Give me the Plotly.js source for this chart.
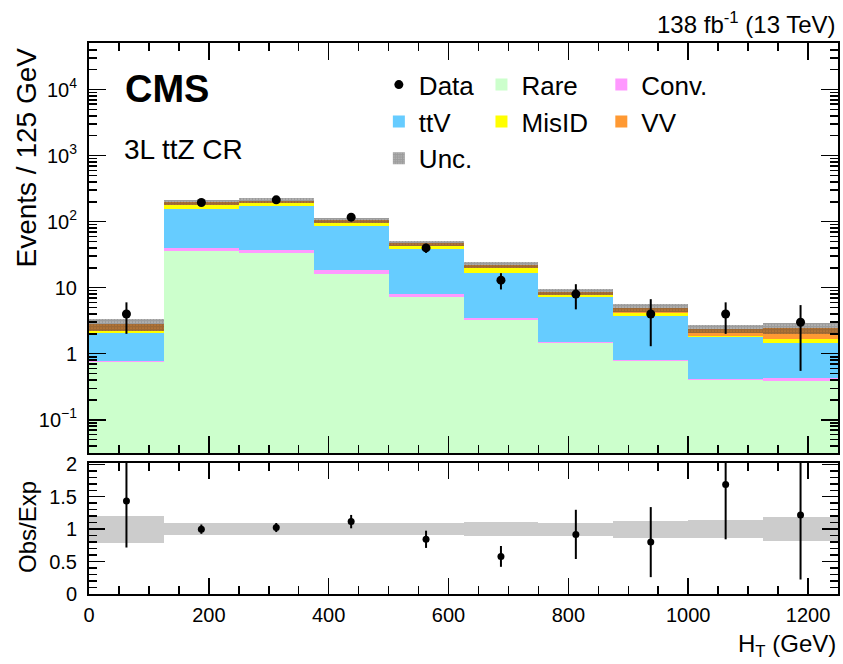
<!DOCTYPE html>
<html>
<head>
<meta charset="utf-8">
<script src="https://cdn.plot.ly/plotly-3.0.1.min.js"></script>
<style>html,body{margin:0;padding:0;background:#fff;}#plot{width:843px;height:664px;}</style>
</head>
<body>
<div id="plot"></div>
<script>
// ---- data ----
const binEdges = [0, 125, 250, 375, 500, 625, 750, 875, 1000, 1125, 1250];
const rare  = [0.74, 36,   34,   16.4, 7.33, 3.25, 1.46, 0.778, 0.401, 0.387];
const conv  = [0.03, 4.0,  3.4,  2.2,  0.64, 0.27, 0.07, 0.02,  0.01,  0.038];
const ttv   = [1.29, 115,  138,  68.7, 30.3, 13.4, 5.8,  2.98,  1.41,  1.015];
const misid = [0.18, 22,   17.3, 7.0,  3.9,  3.05, 0.31, 0.33,  0.06,  0.22];
const vv    = [0.55, 18,   16,   10.5, 5.25, 2.45, 1.06, 0.89,  0.49,  0.80];
const uncFrac = [0.21, 0.09, 0.09, 0.09, 0.09, 0.11, 0.10, 0.13, 0.14, 0.18];
const dataVals = [4, 195, 214, 117, 40, 13, 8, 4, 4, 3];
const dataErr  = [2.0, 14, 14.6, 10.8, 6.3, 3.6, 3.3, 2.7, 2.0, 2.45];
const yTickVals = [0.1, 1, 10, 100, 1000, 10000];
const yTickText = ['10<sup>\u22121</sup>', '1', '10', '10<sup>2</sup>', '10<sup>3</sup>', '10<sup>4</sup>'];

// ---- derived ----
const centers = binEdges.slice(0, -1).map((e, i) => (e + binEdges[i + 1]) / 2);
const widths = binEdges.slice(0, -1).map((e, i) => binEdges[i + 1] - e);
const total = rare.map((v, i) => v + conv[i] + ttv[i] + misid[i] + vv[i]);
const uncBase = total.map((t, i) => t * (1 - uncFrac[i]));
const uncLen = total.map((t, i) => 2 * t * uncFrac[i]);
const ratio = dataVals.map((d, i) => d / total[i]);
const ratioErr = dataErr.map((e, i) => e / total[i]);
const ratioBase = uncFrac.map(u => 1 - u);
const ratioLen = uncFrac.map(u => 2 * u);
const minorLog = [];
for (let k = -2; k <= 4; k++) for (let m = 2; m <= 9; m++) minorLog.push(m * Math.pow(10, k));

const FONT = 'Liberation Sans, Arial, Helvetica, sans-serif';

function stackBar(name, vals, color, legend, rank) {
  return {type: 'bar', x: centers, y: vals, width: widths, name: name,
    marker: {color: color, line: {width: 0}}, xaxis: 'x', yaxis: 'y',
    legend: legend, legendrank: rank, hoverinfo: 'skip'};
}

const traces = [
  stackBar('Rare', rare, '#ccffcc', 'legend2', 1),
  stackBar('Conv.', conv, '#ff99ff', 'legend3', 1),
  stackBar('ttV', ttv, '#66ccff', 'legend', 2),
  stackBar('MisID', misid, '#ffff00', 'legend2', 2),
  stackBar('VV', vv, '#ff9933', 'legend3', 2),
  {type: 'bar', x: centers, y: uncLen, base: uncBase, width: widths, name: 'Unc.',
   xaxis: 'x', yaxis: 'y', legend: 'legend', legendrank: 3, hoverinfo: 'skip',
   marker: {color: 'rgba(0,0,0,0)', line: {width: 0},
     pattern: {shape: '.', fgcolor: '#3a3a3a', bgcolor: 'rgba(0,0,0,0)', size: 3, solidity: 0.85, fillmode: 'overlay'}}},
  {type: 'scatter', mode: 'markers', x: centers, y: dataVals, name: 'Data',
   xaxis: 'x', yaxis: 'y', legend: 'legend', legendrank: 1,
   marker: {color: 'black', size: 9},
   error_y: {type: 'data', symmetric: false, array: dataErr, arrayminus: dataErr, thickness: 2, width: 0, color: 'black'}},
  {type: 'bar', x: centers, y: ratioLen, base: ratioBase, width: widths, showlegend: false,
   xaxis: 'x2', yaxis: 'y2', marker: {color: '#cccccc', line: {width: 0}}, hoverinfo: 'skip'},
  {type: 'scatter', mode: 'markers', x: centers, y: ratio, showlegend: false,
   xaxis: 'x2', yaxis: 'y2', marker: {color: 'black', size: 7},
   error_y: {type: 'data', array: ratioErr, thickness: 2, width: 0, color: 'black'}}
];

const axCommon = {showline: true, linewidth: 2, linecolor: 'black', mirror: 'allticks',
  ticks: 'inside', tickwidth: 1.5, tickcolor: 'black', showgrid: false, zeroline: false,
  tickfont: {family: FONT, size: 20, color: 'black'}};

const legCommon = {bgcolor: 'rgba(0,0,0,0)', borderwidth: 0, traceorder: 'normal',
  font: {family: FONT, size: 26, color: 'black'}, xanchor: 'left', yanchor: 'top',
  itemwidth: 30, tracegroupgap: 0};

const layout = {
  width: 843, height: 664,
  margin: {l: 89, r: 5, t: 43, b: 70},
  paper_bgcolor: 'white', plot_bgcolor: 'white',
  font: {family: FONT, color: 'black'},
  barmode: 'stack', bargap: 0,
  showlegend: true,
  xaxis: Object.assign({}, axCommon, {domain: [0, 1], anchor: 'y', range: [0, 1250],
    tickmode: 'linear', tick0: 0, dtick: 200, ticklen: 17, showticklabels: false,
    minor: {ticks: 'inside', ticklen: 8, tickmode: 'linear', tick0: 0, dtick: 50, tickwidth: 1.5, tickcolor: 'black'}}),
  yaxis: Object.assign({}, axCommon, {domain: [0.2559, 1], anchor: 'x', type: 'log',
    range: [-1.503, 4.705], tickmode: 'array', tickvals: yTickVals, ticktext: yTickText,
    ticklen: 17, ticklabelstandoff: 6,
    minor: {ticks: 'inside', ticklen: 8, tickmode: 'array', tickvals: minorLog, tickwidth: 1.5, tickcolor: 'black'}}),
  xaxis2: Object.assign({}, axCommon, {domain: [0, 1], anchor: 'y2', range: [0, 1250],
    tickmode: 'linear', tick0: 0, dtick: 200, ticklen: 16, ticklabelstandoff: 2,
    minor: {ticks: 'inside', ticklen: 8, tickmode: 'linear', tick0: 0, dtick: 50, tickwidth: 1.5, tickcolor: 'black'}}),
  yaxis2: Object.assign({}, axCommon, {domain: [0, 0.2377], anchor: 'x2', range: [0, 2.02],
    tickmode: 'linear', tick0: 0, dtick: 0.5, ticklen: 16, ticklabelstandoff: 6,
    minor: {ticks: 'inside', ticklen: 8, tickmode: 'linear', tick0: 0, dtick: 0.1, tickwidth: 1.5, tickcolor: 'black'}}),
  legend: Object.assign({}, legCommon, {x: 0.387, y: 0.967}),
  legend2: Object.assign({}, legCommon, {x: 0.524, y: 0.967}),
  legend3: Object.assign({}, legCommon, {x: 0.684, y: 0.967}),
  annotations: [
    {xref: 'paper', yref: 'paper', x: 1, y: 1.0372, xanchor: 'right', yanchor: 'middle', showarrow: false,
     text: '138 fb<sup>-1</sup> (13 TeV)', font: {family: FONT, size: 24, color: 'black'}},
    {xref: 'paper', yref: 'paper', x: 0.046, y: 0.9172, xanchor: 'left', yanchor: 'middle', showarrow: false,
     text: '<b>CMS</b>', font: {family: FONT, size: 38, color: 'black'}},
    {xref: 'paper', yref: 'paper', x: 0.0445, y: 0.8065, xanchor: 'left', yanchor: 'middle', showarrow: false,
     text: '3L ttZ CR', font: {family: FONT, size: 28, color: 'black'}},
    {xref: 'paper', yref: 'paper', x: -0.0841, y: 0.7922, xanchor: 'center', yanchor: 'middle', showarrow: false,
     textangle: -90, text: 'Events / 125 GeV', font: {family: FONT, size: 28, color: 'black'}},
    {xref: 'paper', yref: 'paper', x: -0.0814, y: 0.1216, xanchor: 'center', yanchor: 'middle', showarrow: false,
     textangle: -90, text: 'Obs/Exp', font: {family: FONT, size: 24, color: 'black'}},
    {xref: 'paper', yref: 'paper', x: 1, y: -0.0926, xanchor: 'right', yanchor: 'middle', showarrow: false,
     text: 'H<sub>T</sub> (GeV)', font: {family: FONT, size: 24, color: 'black'}}
  ]
};

Plotly.newPlot('plot', traces, layout, {displayModeBar: false, staticPlot: true});
</script>
</body>
</html>
